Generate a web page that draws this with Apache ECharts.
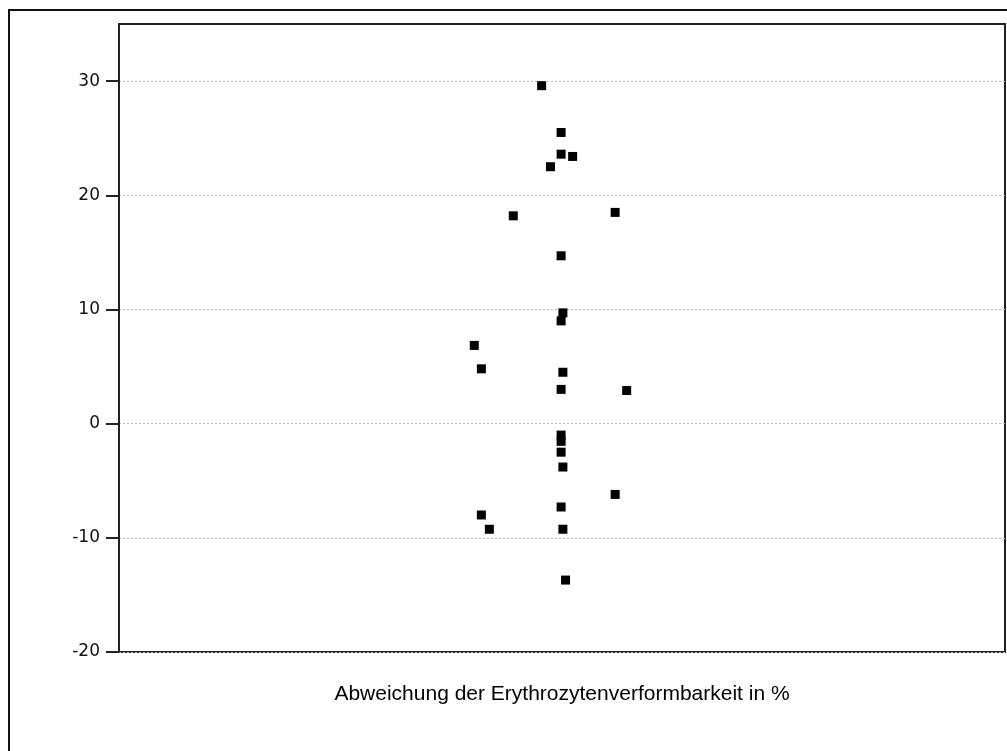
<!DOCTYPE html>
<html><head><meta charset="utf-8">
<script src="https://cdn.jsdelivr.net/npm/echarts@6/dist/echarts.min.js"></script>
<style>html,body{margin:0;padding:0;background:#fff;}#c{width:1007px;height:751px;}</style>
</head><body><div id="c"></div>
<script>
// Horizontal jitter position (0-100, no meaning) and deviation in %
const jitterX = [47.7, 49.9, 49.9, 51.2, 48.7, 44.5, 56.0, 49.9, 50.1, 49.9,
                 40.1, 40.9, 50.1, 49.9, 57.3, 49.9, 49.9, 49.9, 50.1, 56.0,
                 49.9, 40.9, 41.8, 50.1, 50.4];
const deviation = [29.6, 25.5, 23.6, 23.4, 22.5, 18.2, 18.5, 14.7, 9.7, 9.0,
                   6.85, 4.8, 4.5, 3.0, 2.9, -1.0, -1.55, -2.5, -3.8, -6.2,
                   -7.3, -8.0, -9.25, -9.25, -13.7];
const yTicks = [-20, -10, 0, 10, 20, 30];
const xTitle = 'Abweichung der Erythrozytenverformbarkeit in %';

const points = jitterX.map((x, i) => [x, deviation[i]]);
const chart = echarts.init(document.getElementById('c'), null, {renderer: 'canvas'});
chart.setOption({
  animation: false,
  backgroundColor: '#ffffff',
  graphic: [{
    type: 'rect', silent: true, z: -1,
    shape: {x: 9, y: 10, width: 1100, height: 1000},
    style: {fill: null, stroke: '#111', lineWidth: 2}
  }],
  grid: {left: 119, top: 24, right: 2, bottom: 99, show: true, borderColor: '#222', borderWidth: 2, backgroundColor: '#fff'},
  xAxis: {
    type: 'value', min: 0, max: 100,
    axisLine: {show: false}, axisTick: {show: false}, axisLabel: {show: false}, splitLine: {show: false},
    name: xTitle, nameLocation: 'middle', nameGap: 32,
    nameTextStyle: {fontFamily: 'Liberation Sans, Arial', fontSize: 21, color: '#000'}
  },
  yAxis: {
    type: 'value', min: -20, max: 35, interval: 10,
    axisLine: {show: true, lineStyle: {color: '#222', width: 2}},
    axisTick: {show: true, length: 13, lineStyle: {color: '#222', width: 2}, customValues: yTicks},
    axisLabel: {margin: 19, fontFamily: 'DejaVu Sans', fontSize: 17, color: '#111', customValues: yTicks},
    splitLine: {show: true, lineStyle: {color: '#bbb', type: [2, 2], width: 1}}
  },
  series: [{
    type: 'scatter', symbol: 'rect', symbolSize: 9,
    itemStyle: {color: '#000', opacity: 1},
    data: points
  }]
});
</script></body></html>
